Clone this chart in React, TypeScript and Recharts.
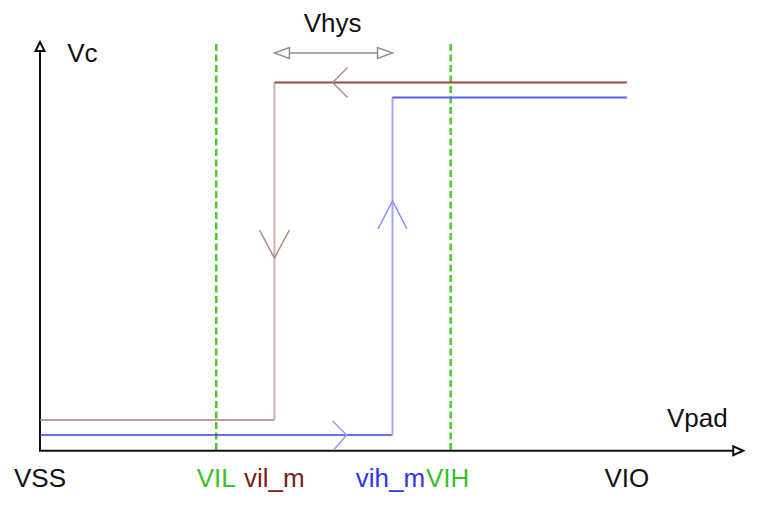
import React from "react";
import {
  ComposedChart,
  Line,
  XAxis,
  YAxis,
  ReferenceLine,
  ReferenceDot,
} from "recharts";

// Voltage levels on the Vpad axis (arbitrary units)
const levelNames = ["VSS", "VIL", "vil_m", "vih_m", "VIH", "VIO"];
const levelValues = [0, 1.0, 1.33, 2.0, 2.33, 3.33];
const levelColors = ["#111111", "#3cbf2a", "#7a1c1c", "#3434f0", "#3cbf2a", "#111111"];

// Output levels on the Vc axis
const brownLow = [
  { x: 0, y: 2 },
  { x: 1.33, y: 2 },
];
const brownFall = [
  { x: 1.33, y: 2 },
  { x: 1.33, y: 24.5 },
];
const brownHigh = [
  { x: 1.33, y: 24.5 },
  { x: 3.33, y: 24.5 },
];
const blueLow = [
  { x: 0, y: 1 },
  { x: 2.0, y: 1 },
];
const blueRise = [
  { x: 2.0, y: 1 },
  { x: 2.0, y: 23.5 },
];
const blueHigh = [
  { x: 2.0, y: 23.5 },
  { x: 3.33, y: 23.5 },
];

// Direction chevrons: position + direction
const chevrons = [
  { x: 1.66, y: 24.5, dir: "left", color: "#b08a8a" },
  { x: 1.33, y: 12.8, dir: "down", color: "#a98888" },
  { x: 2.0, y: 16.6, dir: "up", color: "#8f8ff8" },
  { x: 1.74, y: 1, dir: "right", color: "#9a9af8" },
];

const xMax = 4;
const yMax = 27.2;
const FONT = "'Liberation Sans', Arial, sans-serif";

const TickLabel = (props: any) => {
  const { x, y, payload } = props;
  const idx = levelValues.indexOf(payload.value);
  const dx = idx === 3 ? -2 : idx === 4 ? -3 : 0;
  return (
    <text
      x={x + dx}
      y={y + 37}
      textAnchor="middle"
      fontSize={26}
      fontFamily={FONT}
      fill={levelColors[idx] || "#111"}
    >
      {levelNames[idx]}
    </text>
  );
};

const arrowAxis = (dirUp: boolean) => (props: any) => {
  const { x1, y1, x2, y2 } = props;
  if (dirUp) {
    const tipY = Math.min(y1, y2);
    const baseY = Math.max(y1, y2);
    return (
      <g>
        <line x1={x1} y1={baseY} x2={x1} y2={tipY + 9} stroke="#111" strokeWidth={2} />
        <polygon
          points={`${x1},${tipY} ${x1 - 4.5},${tipY + 9} ${x1 + 4.5},${tipY + 9}`}
          fill="#fff"
          stroke="#111"
          strokeWidth={2}
        />
      </g>
    );
  }
  const tipX = Math.max(x1, x2);
  const startX = Math.min(x1, x2);
  return (
    <g>
      <line x1={startX - 1} y1={y1} x2={tipX - 10} y2={y1} stroke="#111" strokeWidth={2} />
      <polygon
        points={`${tipX},${y1} ${tipX - 10},${y1 - 4.5} ${tipX - 10},${y1 + 4.5}`}
        fill="#fff"
        stroke="#111"
        strokeWidth={2}
      />
    </g>
  );
};

const doubleArrow = (props: any) => {
  const { x1, y1, x2 } = props;
  const l = Math.min(x1, x2);
  const r = Math.max(x1, x2);
  const y = y1;
  return (
    <g>
      <line x1={l + 15} y1={y} x2={r - 15} y2={y} stroke="#a8a8a8" strokeWidth={2} />
      <polygon
        points={`${l},${y} ${l + 15},${y - 5.5} ${l + 15},${y + 5.5}`}
        fill="#fff"
        stroke="#909090"
        strokeWidth={1.5}
      />
      <polygon
        points={`${r},${y} ${r - 15},${y - 5.5} ${r - 15},${y + 5.5}`}
        fill="#fff"
        stroke="#909090"
        strokeWidth={1.5}
      />
    </g>
  );
};

const chevronShape = (dir: string, color: string) => (props: any) => {
  const { cx, cy } = props;
  let pts = "";
  if (dir === "left") pts = `${cx + 15},${cy - 15} ${cx},${cy} ${cx + 15},${cy + 15}`;
  if (dir === "right") pts = `${cx - 14},${cy - 14} ${cx},${cy} ${cx - 13},${cy + 15}`;
  if (dir === "down") pts = `${cx - 15},${cy - 28} ${cx},${cy} ${cx + 15},${cy - 28}`;
  if (dir === "up") pts = `${cx - 14.5},${cy + 28} ${cx},${cy} ${cx + 14.5},${cy + 28}`;
  return <polyline points={pts} fill="none" stroke={color} strokeWidth={1.5} />;
};

const textShape = (label: string, color = "#111") => (props: any) => {
  const { cx, cy } = props;
  return (
    <text x={cx} y={cy} textAnchor="middle" fontSize={26} fontFamily={FONT} fill={color}>
      {label}
    </text>
  );
};

export default function App() {
  return (
    <div style={{ position: "absolute", left: 0, top: 0, background: "#fff" }}>
      <ComposedChart
        width={764}
        height={507}
        margin={{ top: 42, right: 19, bottom: 0, left: 40 }}
      >
        <XAxis
          type="number"
          dataKey="x"
          domain={[0, xMax]}
          allowDataOverflow
          ticks={levelValues}
          tick={<TickLabel />}
          axisLine={false}
          tickLine={false}
          tickSize={0}
          tickMargin={0}
          height={57}
          interval={0}
        />
        <YAxis type="number" dataKey="y" domain={[0, yMax]} allowDataOverflow hide width={0} />

        {/* threshold lines */}
        <ReferenceLine x={1.0} stroke="#4ccc2c" strokeWidth={2.5} strokeDasharray="7 3.5" />
        <ReferenceLine x={2.33} stroke="#4ccc2c" strokeWidth={2.5} strokeDasharray="7 3.5" />

        {/* axes with arrowheads */}
        <ReferenceLine
          segment={[{ x: 0, y: -0.05 }, { x: 0, y: yMax }]}
          ifOverflow="visible"
          shape={arrowAxis(true)}
        />
        <ReferenceLine
          segment={[{ x: 0, y: -0.05 }, { x: 3.99, y: -0.05 }]}
          ifOverflow="visible"
          shape={arrowAxis(false)}
        />

        {/* transfer curves */}
        <Line data={brownLow} dataKey="y" stroke="#a87c7c" strokeWidth={1.5} dot={false} isAnimationActive={false} />
        <Line data={brownFall} dataKey="y" stroke="#cdb3b3" strokeWidth={2} dot={false} isAnimationActive={false} />
        <Line data={brownHigh} dataKey="y" stroke="#9a4646" strokeWidth={2} dot={false} isAnimationActive={false} />
        <Line data={blueLow} dataKey="y" stroke="#3a3af0" strokeWidth={1.5} dot={false} isAnimationActive={false} />
        <Line data={blueRise} dataKey="y" stroke="#a4a4ff" strokeWidth={2} dot={false} isAnimationActive={false} />
        <Line data={blueHigh} dataKey="y" stroke="#5a5aff" strokeWidth={2} dot={false} isAnimationActive={false} />

        {chevrons.map((c, i) => (
          <ReferenceDot
            key={i}
            x={c.x}
            y={c.y}
            r={1}
            ifOverflow="visible"
            shape={chevronShape(c.dir, c.color)}
          />
        ))}

        {/* Vhys span */}
        <ReferenceLine
          segment={[{ x: 1.33, y: 26.47 }, { x: 2.0, y: 26.47 }]}
          ifOverflow="visible"
          shape={doubleArrow}
        />
        <ReferenceDot x={1.66} y={27.85} r={1} ifOverflow="visible" shape={textShape("Vhys")} />
        <ReferenceDot x={0.24} y={25.9} r={1} ifOverflow="visible" shape={textShape("Vc")} />
        <ReferenceDot x={3.73} y={1.55} r={1} ifOverflow="visible" shape={textShape("Vpad")} />
      </ComposedChart>
    </div>
  );
}
